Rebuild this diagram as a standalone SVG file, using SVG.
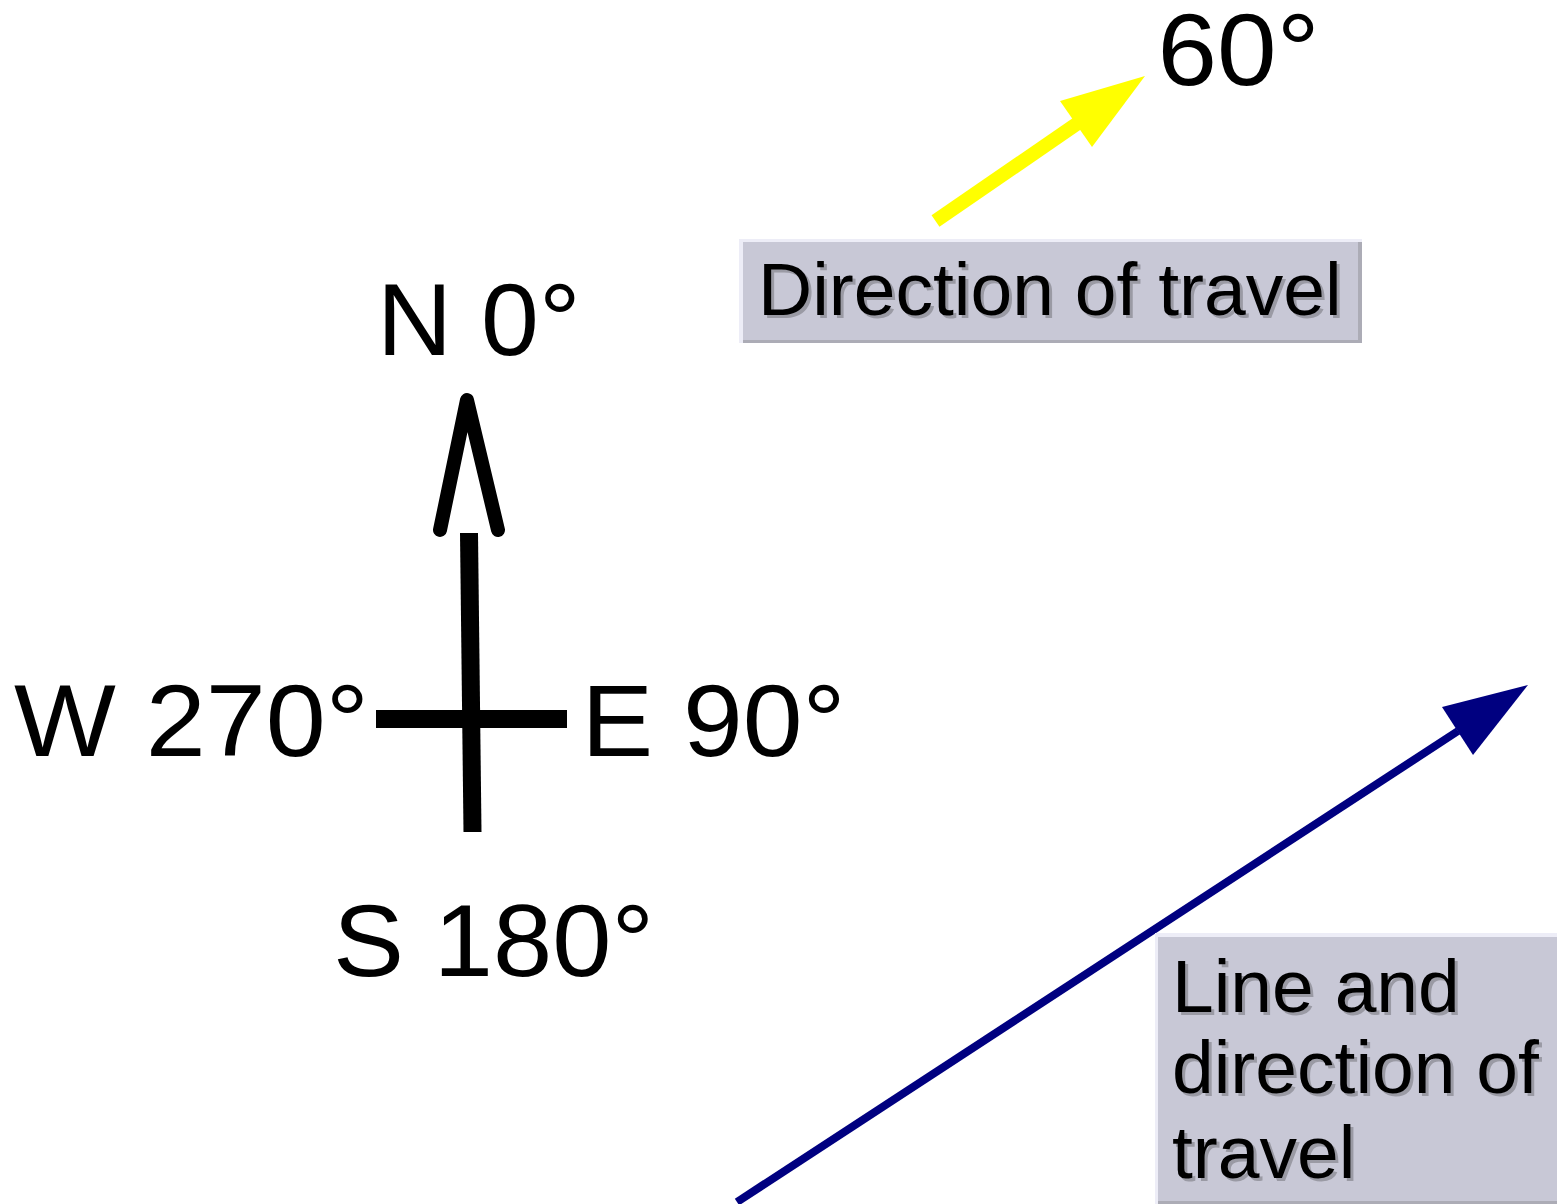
<svg xmlns="http://www.w3.org/2000/svg" width="1557" height="1204" viewBox="0 0 1557 1204">
<style>
.lbl{font-family:"Liberation Sans",Arial,sans-serif;font-size:102px;fill:#000}
.box{font-family:"Liberation Sans",Arial,sans-serif;font-size:75px}
.sh{fill:#9a9aa4}
.tx{fill:#000}
.k{stroke:#000;fill:none}
.hi{fill:#ededf7}
.dk{fill:#acacb6}
.bg{fill:#c8c8d6}
</style>
<rect width="1557" height="1204" fill="#fff"/>
<g id="compass">
<line class="k" x1="469" y1="533" x2="472.5" y2="832" stroke-width="18"/>
<line class="k" x1="376" y1="719" x2="567" y2="719" stroke-width="18"/>
<polyline class="k" points="440,530 467,400 498,530" stroke-width="14" stroke-linecap="round" stroke-linejoin="round"/>
</g>
<g id="labels">
<text class="lbl" x="377" y="355" textLength="203.5" lengthAdjust="spacingAndGlyphs">N 0°</text>
<text class="lbl" x="14" y="756" textLength="355" lengthAdjust="spacingAndGlyphs">W 270°</text>
<text class="lbl" x="581.5" y="756" textLength="264" lengthAdjust="spacingAndGlyphs">E 90°</text>
<text class="lbl" x="333" y="975.5" textLength="321" lengthAdjust="spacingAndGlyphs">S 180°</text>
<text class="lbl" x="1157.5" y="85" textLength="162" lengthAdjust="spacingAndGlyphs">60°</text>
</g>
<g id="connectors">
<line x1="935.5" y1="221" x2="1078" y2="123" stroke="#ffff00" stroke-width="14"/>
<polygon points="1145,76 1060,101 1092,147" fill="#ffff00"/>
<line x1="737" y1="1202" x2="1458" y2="731" stroke="#000080" stroke-width="8"/>
<polygon points="1528,685 1442,707 1473,755" fill="#000080"/>
</g>
<g id="box-direction">
<rect class="hi" x="739" y="239" width="623" height="104"/>
<rect class="dk" x="743" y="242" width="619" height="101"/>
<rect class="bg" x="743" y="242" width="615" height="98"/>
<text class="box sh" x="761" y="318">Direction of travel</text>
<text class="box tx" x="758" y="315">Direction of travel</text>
</g>
<g id="box-line">
<rect class="hi" x="1155" y="933" width="402" height="271"/>
<rect class="dk" x="1158" y="937" width="399" height="267"/>
<rect class="bg" x="1158" y="937" width="399" height="264"/>
<text class="box sh"><tspan x="1175" y="1015">Line and</tspan><tspan x="1175" y="1096">direction of</tspan><tspan x="1175" y="1181">travel</tspan></text>
<text class="box tx"><tspan x="1172" y="1012">Line and</tspan><tspan x="1172" y="1093">direction of</tspan><tspan x="1172" y="1178">travel</tspan></text>
</g>
</svg>
